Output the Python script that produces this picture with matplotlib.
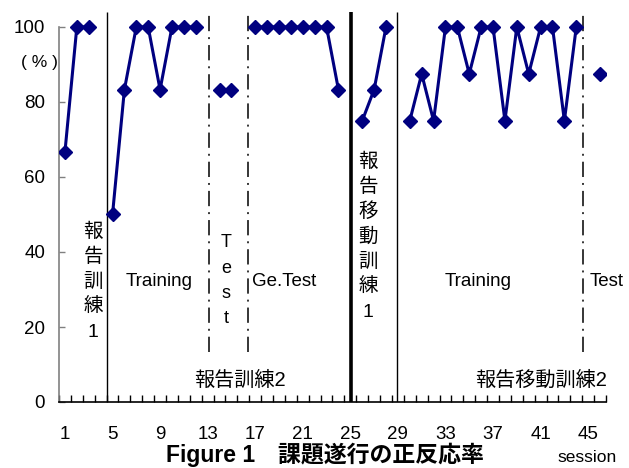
import numpy as np
import matplotlib
matplotlib.use("Agg")
from matplotlib import pyplot as plt

plt.rcParams['font.family'] = ['Liberation Sans', 'Noto Sans CJK JP']
plt.rcParams['lines.scale_dashes'] = False

# correct response rate (%) per session, nan = no session plotted
sessions = np.arange(1, 47)
rate = [66.7, 100, 100, np.nan, 50, 83.3, 100, 100, 83.3, 100, 100, 100,
        np.nan, 83.3, 83.3, np.nan, 100, 100, 100, 100, 100, 100, 100, 83.3,
        np.nan, 75, 83.3, 100, np.nan, 75, 87.5, 75, 100, 100, 87.5, 100,
        100, 75, 100, 87.5, 100, 100, 75, 100, np.nan, 87.5]
xtick_sessions = list(range(1, 46, 4))
yticks = [0, 20, 40, 60, 80, 100]

# phase boundaries (session axis)
solid_bounds = [4.54, 28.93]
thick_bounds = [25.06]
dashdot_bounds = [13.1, 16.42, 44.55]

fig = plt.figure(figsize=(6.29, 4.68), dpi=100)
ax = fig.add_axes([59 / 629, 66 / 468, 547 / 629, 390 / 468])

ax.plot(sessions, rate, color='#000080', lw=2.2, marker='D', ms=7.3,
        mec='#000080', mfc='#000080', zorder=3)

ax.vlines(solid_bounds, 0, 104, colors='black', lw=1.0)
ax.vlines(thick_bounds, 0, 104, colors='black', lw=2.6)
ax.vlines(dashdot_bounds, 13.3, 104, colors='black', lw=1.1,
          linestyles=[(0, (11, 4.3, 1.4, 4.3))])

ax.set_xlim(0.5, 46.5)
ax.set_ylim(0, 104)
for s in ['top', 'right']:
    ax.spines[s].set_visible(False)
ax.spines['left'].set_bounds(0, 100)
ax.spines['left'].set_color('#808080')
ax.spines['left'].set_linewidth(1.2)
ax.spines['bottom'].set_color('black')
ax.spines['bottom'].set_linewidth(1.2)

ax.set_yticks(yticks)
ax.tick_params(axis='y', direction='in', length=4.5, width=1, color='#808080',
               pad=10, labelsize=13.5)
ax.set_xticks(xtick_sessions)
ax.set_xticks(np.arange(0.5, 47, 1), minor=True)
ax.tick_params(axis='x', which='major', length=0, pad=17, labelsize=13.5)
ax.tick_params(axis='x', which='minor', direction='in', length=5, width=1,
               color='black')

# phase labels
def vtext(x, ytop, label, step=6.67, size=14):
    for k, ch in enumerate(label):
        ax.text(x, ytop - k * step, ch, ha='center', va='center', fontsize=size)

vtext(3.36, 45.3, '報告訓練1')
vtext(14.55, 42.4, 'Test', size=13)
vtext(26.5, 64.0, '報告移動訓練1')
ax.text(8.91, 32, 'Training', ha='center', va='center', fontsize=13.5)
ax.text(16.73, 32, 'Ge.Test', ha='left', va='center', fontsize=13.5)
ax.text(35.74, 32, 'Training', ha='center', va='center', fontsize=13.5)
ax.text(45.16, 32, 'Test', ha='left', va='center', fontsize=13.5)
ax.text(15.7, 5.9, '報告訓練2', ha='center', va='center', fontsize=14.5)
ax.text(41.04, 5.9, '報告移動訓練2', ha='center', va='center', fontsize=14.5)

fig.text(39 / 629, 1 - 62 / 468, '( % )', ha='center', va='center', fontsize=12.5)
fig.text(0.517, 1 - 455 / 468, 'Figure 1\u3000課題遂行の正反応率', ha='center',
         va='center', fontsize=16.5, fontweight='bold')
fig.text(587 / 629, 1 - 458 / 468, 'session', ha='center', va='center',
         fontsize=12.5)

fig.savefig('out.png', dpi=100)
